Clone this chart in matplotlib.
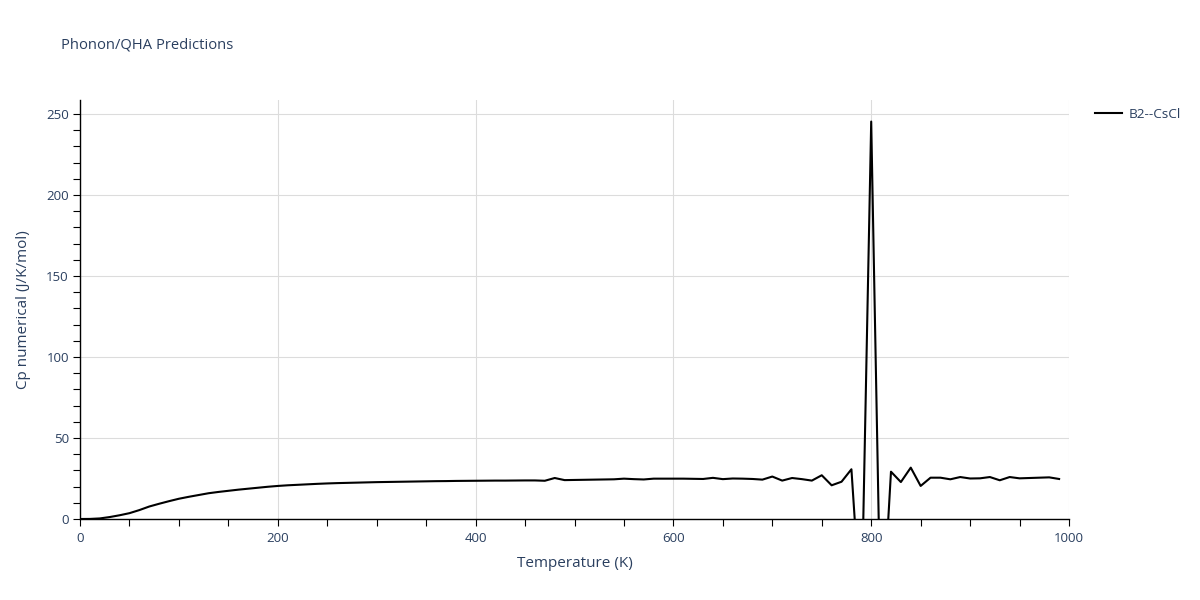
import matplotlib
matplotlib.use("Agg")
import matplotlib.pyplot as plt
from matplotlib.ticker import MultipleLocator

# Temperature grid (K) and numerical Cp (J/K/mol)
temperature = [
    0, 10, 20, 30, 40, 50, 60, 70, 80, 90,
    100, 110, 120, 130, 140, 150, 160, 170, 180, 190,
    200, 210, 220, 230, 240, 250, 260, 270, 280, 290,
    300, 310, 320, 330, 340, 350, 360, 370, 380, 390,
    400, 410, 420, 430, 440, 450, 460, 470, 480, 490,
    500, 510, 520, 530, 540, 550, 560, 570, 580, 590,
    600, 610, 620, 630, 640, 650, 660, 670, 680, 690,
    700, 710, 720, 730, 740, 750, 760, 770, 780, 790,
    800, 810, 820, 830, 840, 850, 860, 870, 880, 890,
    900, 910, 920, 930, 940, 950, 960, 970, 980, 990,
]
cp_numerical = [
    0.0, 0.05, 0.35, 1.2, 2.3, 3.6, 5.5, 7.7, 9.4, 11.0,
    12.5, 13.7, 14.8, 15.9, 16.7, 17.4, 18.1, 18.7, 19.3, 19.9,
    20.4, 20.8, 21.1, 21.4, 21.7, 21.95, 22.15, 22.3, 22.45, 22.6,
    22.75, 22.85, 22.95, 23.05, 23.15, 23.25, 23.35, 23.4, 23.5, 23.55,
    23.6, 23.65, 23.7, 23.7, 23.75, 23.8, 23.8, 23.6, 25.3, 24.0,
    24.1, 24.2, 24.3, 24.4, 24.5, 24.9, 24.6, 24.4, 24.9, 24.9,
    24.9, 24.9, 24.8, 24.7, 25.4, 24.6, 25.0, 24.9, 24.7, 24.3,
    26.2, 23.7, 25.3, 24.6, 23.7, 27.0, 20.8, 23.0, 30.7, -62.0,
    245.3, -78.0, 29.2, 22.8, 31.7, 20.4, 25.5, 25.5, 24.5, 25.9,
    25.0, 25.1, 25.9, 23.9, 25.9, 25.1, 25.3, 25.5, 25.7, 24.7,
]
series_name = "B2--CsCl"

TEXT = "#2a3f5f"
GRID = "#dcdcdc"

plt.rcParams["font.family"] = ["Open Sans", "DejaVu Sans"]

fig = plt.figure(figsize=(12, 6), dpi=100)
ax = fig.add_axes([80 / 1200, 81 / 600, 989 / 1200, 419 / 600])

ax.plot(temperature, cp_numerical, color="black", linewidth=1.5,
        label=series_name)

ax.set_xlim(0, 1000)
ax.set_ylim(0, 258.6)
ax.xaxis.set_major_locator(MultipleLocator(200))
ax.xaxis.set_minor_locator(MultipleLocator(50))
ax.yaxis.set_major_locator(MultipleLocator(50))
ax.yaxis.set_minor_locator(MultipleLocator(10))

ax.grid(True, which="major", color=GRID, linewidth=0.8)
ax.set_axisbelow(True)
for side in ("top", "right"):
    ax.spines[side].set_visible(False)
for side in ("left", "bottom"):
    ax.spines[side].set_color("black")
    ax.spines[side].set_linewidth(1.0)

ax.tick_params(which="both", direction="out", length=5, width=0.8,
               color="black", labelcolor=TEXT, labelsize=9.5)
ax.tick_params(axis="x", which="both", pad=4)
ax.tick_params(axis="y", which="both", pad=3)

ax.set_xlabel("Temperature (K)", fontsize=11, color=TEXT, labelpad=8)
ax.set_ylabel("Cp numerical (J/K/mol)", fontsize=11, color=TEXT, labelpad=11)

fig.text(61 / 1200, 1 - 45 / 600, "Phonon/QHA Predictions", fontsize=10.6,
         color=TEXT, va="center", ha="left")

ax.legend(loc="upper left", bbox_to_anchor=(1.017, 1.003), frameon=False,
          fontsize=9.7, handlelength=2.0, handletextpad=0.45,
          labelcolor=TEXT, borderaxespad=0.3)

fig.savefig("out.png", dpi=100)
